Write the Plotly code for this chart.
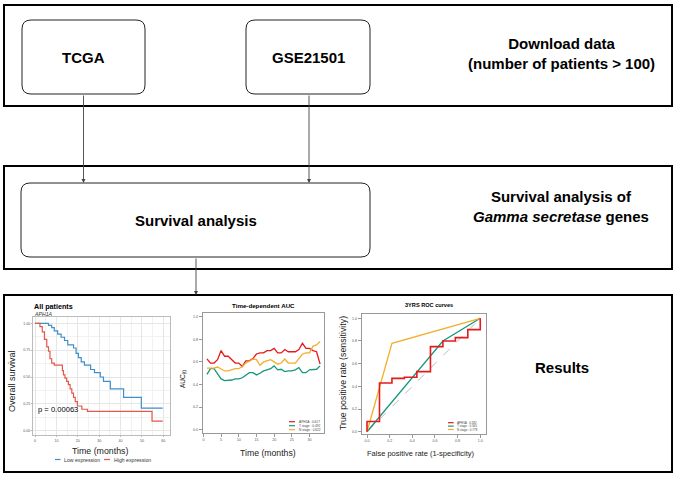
import plotly.graph_objects as go

W, H = 677, 478

def px(x):
    return x / W

def py(y):
    return 1 - y / H

# ---------------- data ----------------
box_labels = ["TCGA", "GSE21501", "Survival analysis"]
side_labels = ["Download data<br>(number of patients > 100)",
               "Survival analysis of<br><i>Gamma secretase</i> genes",
               "Results"]

km_groups = ["Low expression", "High expression"]
km_low_t = [0, 6.3, 7.8, 9.0, 10.6, 12.2, 13.8, 15.3, 18.0, 19.2, 20.3, 21.6, 23.1, 26.0, 27.8, 30.5, 32.0, 35.2, 41.4, 49.7, 59.7]
km_low_s = [1.00, 0.98, 0.96, 0.93, 0.90, 0.87, 0.84, 0.80, 0.77, 0.72, 0.68, 0.64, 0.61, 0.57, 0.54, 0.50, 0.46, 0.39, 0.31, 0.21, 0.21]
km_high_t = [0, 2.3, 3.4, 4.4, 5.5, 6.3, 7.0, 7.8, 9.0, 12.8, 13.3, 14.0, 14.8, 15.6, 16.4, 17.2, 18.0, 18.8, 19.8, 21.9, 24.5, 54.7, 59.7]
km_high_s = [1.00, 0.97, 0.92, 0.85, 0.78, 0.74, 0.67, 0.63, 0.61, 0.56, 0.52, 0.49, 0.46, 0.43, 0.39, 0.35, 0.31, 0.27, 0.23, 0.20, 0.18, 0.09, 0.09]
km_ticks_x = [0, 10, 20, 30, 40, 50, 60]
km_ticks_y = [0, 0.25, 0.5, 0.75, 1.0]
km_ticktext_y = ["0.00", "0.25", "0.50", "0.75", "1.00"]
km_pvalue = "p = 0.00063"

auc_t = [1, 2, 3, 4, 5, 6, 7, 8, 9, 10, 11, 12, 13, 14, 15, 16, 17, 18, 19, 20, 21, 22, 23, 24, 25, 26, 27, 28, 29, 30, 31, 32, 33]
auc_aph1a = [0.627, 0.59, 0.59, 0.62, 0.70, 0.65, 0.65, 0.62, 0.59, 0.59, 0.56, 0.61, 0.61, 0.63, 0.67, 0.68, 0.68, 0.70, 0.70, 0.72, 0.68, 0.68, 0.71, 0.69, 0.69, 0.69, 0.71, 0.765, 0.72, 0.72, 0.70, 0.69, 0.58]
auc_tstage = [0.49, 0.54, 0.54, 0.49, 0.45, 0.435, 0.435, 0.44, 0.45, 0.45, 0.46, 0.48, 0.505, 0.505, 0.485, 0.50, 0.52, 0.53, 0.54, 0.565, 0.53, 0.535, 0.515, 0.52, 0.52, 0.53, 0.55, 0.505, 0.505, 0.53, 0.53, 0.535, 0.565]
auc_nstage = [0.545, 0.545, 0.545, 0.555, 0.54, 0.52, 0.52, 0.53, 0.54, 0.54, 0.56, 0.59, 0.61, 0.625, 0.62, 0.57, 0.60, 0.61, 0.62, 0.60, 0.58, 0.59, 0.625, 0.59, 0.59, 0.59, 0.63, 0.67, 0.68, 0.68, 0.74, 0.75, 0.78]
auc_legend = ["APH1A : 0.617", "T stage : 0.492", "N stage : 0.622"]
auc_ticks_x = [0, 5, 10, 15, 20, 25, 30]
auc_ticks_y = [0.0, 0.2, 0.4, 0.6, 0.8, 1.0]

roc_aph1a_x = [0, 0, 0.11, 0.11, 0.22, 0.22, 0.33, 0.33, 0.44, 0.44, 0.56, 0.56, 0.67, 0.67, 0.78, 0.78, 0.89, 0.89, 1.0, 1.0]
roc_aph1a_y = [0, 0.09, 0.09, 0.43, 0.43, 0.47, 0.47, 0.48, 0.48, 0.53, 0.53, 0.75, 0.75, 0.80, 0.80, 0.83, 0.83, 0.90, 0.90, 1.0]
roc_tstage_x = [0, 0.67, 1.0]
roc_tstage_y = [0, 0.80, 1.0]
roc_nstage_x = [0, 0.22, 1.0]
roc_nstage_y = [0, 0.78, 1.0]
roc_diag = [0, 1]
roc_legend = ["APH1A : 0.582", "T stage : 0.565", "N stage : 0.778"]
roc_ticks = [0.0, 0.2, 0.4, 0.6, 0.8, 1.0]

# ---------------- style ----------------
FONT = "Liberation Sans, Arial, sans-serif"
KM_BLUE = "#3F8FC9"
KM_RED = "#E2584A"
C_RED = "#E41A1C"
C_GREEN = "#17977B"
C_YEL = "#F2AE2C"

fig = go.Figure()

# KM
fig.add_trace(go.Scatter(x=km_low_t, y=km_low_s, mode="lines", line=dict(color=KM_BLUE, width=1.2, shape="hv"),
                         xaxis="x", yaxis="y", showlegend=False))
fig.add_trace(go.Scatter(x=km_high_t, y=km_high_s, mode="lines", line=dict(color=KM_RED, width=1.2, shape="hv"),
                         xaxis="x", yaxis="y", showlegend=False))
# AUC
for vals, col in [(auc_aph1a, C_RED), (auc_tstage, C_GREEN), (auc_nstage, C_YEL)]:
    fig.add_trace(go.Scatter(x=auc_t, y=vals, mode="lines", line=dict(color=col, width=1.3),
                             xaxis="x2", yaxis="y2", showlegend=False))
# ROC
fig.add_trace(go.Scatter(x=roc_diag, y=roc_diag, mode="lines", line=dict(color="#AAAAAA", width=0.8, dash="dash"),
                         xaxis="x3", yaxis="y3", showlegend=False))
fig.add_trace(go.Scatter(x=roc_tstage_x, y=roc_tstage_y, mode="lines", line=dict(color=C_GREEN, width=1.3),
                         xaxis="x3", yaxis="y3", showlegend=False))
fig.add_trace(go.Scatter(x=roc_nstage_x, y=roc_nstage_y, mode="lines", line=dict(color=C_YEL, width=1.3),
                         xaxis="x3", yaxis="y3", showlegend=False))
fig.add_trace(go.Scatter(x=roc_aph1a_x, y=roc_aph1a_y, mode="lines", line=dict(color=C_RED, width=1.6),
                         xaxis="x3", yaxis="y3", showlegend=False))

tickfont = dict(family=FONT, size=3.6, color="#555555")

layout = dict(
    width=W, height=H, margin=dict(l=0, r=0, t=0, b=0),
    paper_bgcolor="white", plot_bgcolor="white",
    font=dict(family=FONT),
    xaxis=dict(domain=[px(33.3), px(170)], range=[-0.8, 63.1], tickvals=km_ticks_x, anchor="y",
               showgrid=True, gridcolor="#E6E6E6", gridwidth=0.6,
               minor=dict(dtick=5, tick0=0, showgrid=True, gridcolor="#F2F2F2", gridwidth=0.4),
               showline=True, mirror=True, linecolor="#BBBBBB", linewidth=0.8,
               ticks="outside", ticklen=1.5, tickcolor="#BBBBBB", tickfont=tickfont, zeroline=False),
    yaxis=dict(domain=[py(435), py(317.3)], range=[-0.04, 1.056], tickvals=km_ticks_y, ticktext=km_ticktext_y,
               anchor="x", showgrid=True, gridcolor="#E6E6E6", gridwidth=0.6,
               minor=dict(dtick=0.125, tick0=0, showgrid=True, gridcolor="#F2F2F2", gridwidth=0.4),
               showline=True, mirror=True, linecolor="#BBBBBB", linewidth=0.8,
               ticks="outside", ticklen=1.5, tickcolor="#BBBBBB", tickfont=tickfont, zeroline=False),
    xaxis2=dict(domain=[px(202.7), px(324)], range=[-0.2, 34.1], tickvals=auc_ticks_x, anchor="y2",
                showgrid=False, showline=True, mirror=True, linecolor="#999999", linewidth=0.8,
                ticks="outside", ticklen=3, tickcolor="#999999", tickfont=tickfont, zeroline=False),
    yaxis2=dict(domain=[py(432.7), py(313.3)], range=[-0.026, 1.03], tickvals=auc_ticks_y,
                ticktext=["0.0", "0.2", "0.4", "0.6", "0.8", "1.0"], anchor="x2",
                showgrid=False, showline=True, mirror=True, linecolor="#999999", linewidth=0.8,
                ticks="outside", ticklen=3, tickcolor="#999999", tickfont=tickfont, zeroline=False),
    xaxis3=dict(domain=[px(361.7), px(485.7)], range=[-0.047, 1.048], tickvals=roc_ticks,
                ticktext=["0.0", "0.2", "0.4", "0.6", "0.8", "1.0"], anchor="y3",
                showgrid=False, showline=True, mirror=True, linecolor="#999999", linewidth=0.8,
                ticks="outside", ticklen=3, tickcolor="#999999", tickfont=tickfont, zeroline=False),
    yaxis3=dict(domain=[py(434), py(314)], range=[-0.02, 1.038], tickvals=roc_ticks,
                ticktext=["0.0", "0.2", "0.4", "0.6", "0.8", "1.0"], anchor="x3",
                showgrid=False, showline=True, mirror=True, linecolor="#999999", linewidth=0.8,
                ticks="outside", ticklen=3, tickcolor="#999999", tickfont=tickfont, zeroline=False),
)
fig.update_layout(**layout)

shapes = []

def rect(x0, y0, x1, y1, width=2, color="black"):
    shapes.append(dict(type="rect", xref="paper", yref="paper", x0=px(x0), x1=px(x1), y0=py(y1), y1=py(y0),
                       line=dict(color=color, width=width), fillcolor="rgba(0,0,0,0)", layer="below"))

def rrect(x0, y0, x1, y1, r=9, width=1, color="#222222"):
    pts = [
        f"M{px(x0 + r)},{py(y0)}",
        f"L{px(x1 - r)},{py(y0)}",
        f"Q{px(x1)},{py(y0)} {px(x1)},{py(y0 + r)}",
        f"L{px(x1)},{py(y1 - r)}",
        f"Q{px(x1)},{py(y1)} {px(x1 - r)},{py(y1)}",
        f"L{px(x0 + r)},{py(y1)}",
        f"Q{px(x0)},{py(y1)} {px(x0)},{py(y1 - r)}",
        f"L{px(x0)},{py(y0 + r)}",
        f"Q{px(x0)},{py(y0)} {px(x0 + r)},{py(y0)}",
        "Z",
    ]
    shapes.append(dict(type="path", xref="paper", yref="paper", path=" ".join(pts),
                       line=dict(color=color, width=width), fillcolor="rgba(0,0,0,0)"))

# outer panels
rect(4, 5, 672, 106)
rect(4, 166, 672, 269)
rect(4, 295, 672, 472)
# rounded boxes
rrect(22, 20, 145, 94)
rrect(246, 20, 370, 94)
rrect(21, 183, 370, 257)

# legend keys
def hline(x0, x1, y, color, width=1.3):
    shapes.append(dict(type="line", xref="paper", yref="paper", x0=px(x0), x1=px(x1), y0=py(y), y1=py(y),
                       line=dict(color=color, width=width)))

hline(55, 60.5, 459.5, KM_BLUE, 1.2)
hline(104, 110, 459.5, KM_RED, 1.2)
for i, col in enumerate([C_RED, C_GREEN, C_YEL]):
    hline(289, 295, 421.7 + 4 * i, col, 1.2)
    hline(448, 453.7, 422.7 + 3.4 * i, col, 1.2)

fig.update_layout(shapes=shapes)

ann = []

def text(x, y, s, size, bold=False, italic=False, color="black", angle=0, xanchor="center"):
    if bold:
        s = f"<b>{s}</b>"
    if italic:
        s = f"<i>{s}</i>"
    ann.append(dict(xref="paper", yref="paper", x=px(x), y=py(y), text=s, showarrow=False,
                    font=dict(family=FONT, size=size, color=color), textangle=angle,
                    xanchor=xanchor, yanchor="middle"))

def arrow(x, y_from, y_to):
    ann.append(dict(xref="paper", yref="paper", x=px(x), y=py(y_to), ax=0, ay=-(y_to - y_from),
                    axref="pixel", ayref="pixel", text="", showarrow=True, arrowhead=2, arrowsize=0.9,
                    arrowwidth=0.9, arrowcolor="#444444", standoff=0))

# flowchart text
text(83.5, 57, box_labels[0], 15, bold=True)
text(308, 57, box_labels[1], 15, bold=True)
text(196, 220, box_labels[2], 15, bold=True)
text(561, 53, "<b>Download data</b><br><b>(number of patients > 100)</b>", 15)
text(561, 206, "<b>Survival analysis of</b><br><b><i>Gamma secretase</i> genes</b>", 15)
text(562, 367, side_labels[2], 15, bold=True)

arrow(83.5, 94, 183)
arrow(309, 94, 183)
arrow(196, 257, 295)

# KM panel texts
text(32, 306, "All patients", 7.2, bold=True, xanchor="left")
text(32, 314, "APH1A", 5.2, italic=True, color="#333333", xanchor="left")
text(12, 381, "Overall survival", 9, angle=-90, color="#222222")
text(100, 451, "Time (months)", 8.8, color="#222222")
ann.append(dict(xref="x", yref="y", x=10.8, y=0.20, text=km_pvalue, showarrow=False,
                font=dict(family=FONT, size=7.6, color="black"), xanchor="center", yanchor="middle"))
text(61.5, 459.5, km_groups[0], 5.2, color="#333333", xanchor="left")
text(111.5, 459.5, km_groups[1], 5.2, color="#333333", xanchor="left")

# AUC panel texts
text(263.5, 305, "Time-dependent AUC", 6.2, bold=True)
text(268, 453, "Time (months)", 8.7, color="#222222")
text(183, 378, "AUC<sub>(t)</sub>", 6.5, angle=-90, color="#222222")
for i, s in enumerate(auc_legend):
    text(296.5, 421.7 + 4 * i, s, 3.2, color="#444444", xanchor="left")

# ROC panel texts
text(429, 305, "3YRS ROC curves", 5.6, bold=True)
text(421, 453, "False positive rate (1-specificity)", 7.5, color="#222222")
text(343, 373, "True positive rate (sensitivity)", 8.8, angle=-90, color="#222222")
for i, s in enumerate(roc_legend):
    text(455, 422.7 + 3.4 * i, s, 3.0, color="#444444", xanchor="left")

fig.update_layout(annotations=ann)

fig.write_html("out.html", config={"displayModeBar": False},
               post_script="document.body.style.margin='0px';")
